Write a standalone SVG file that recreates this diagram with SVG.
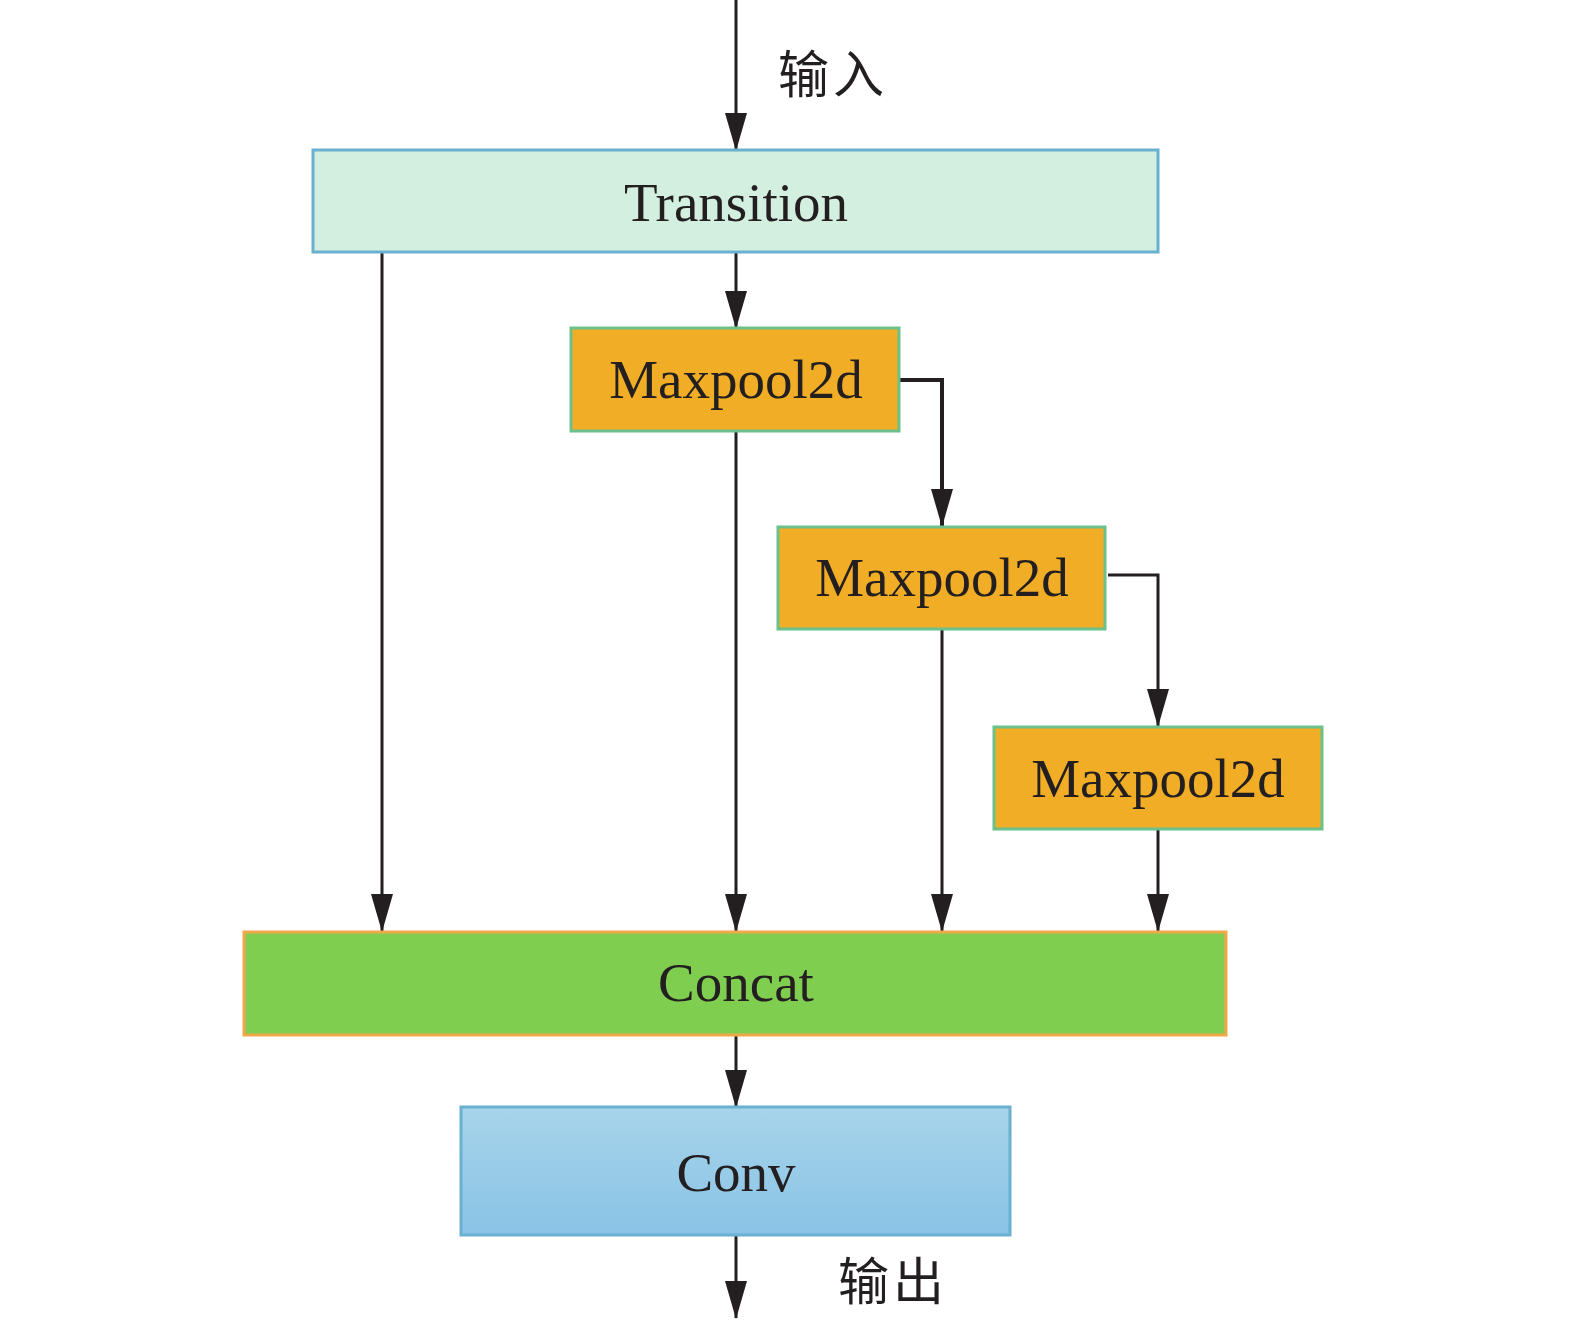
<svg xmlns="http://www.w3.org/2000/svg" width="1575" height="1324" viewBox="0 0 1575 1324">
<defs>
<marker id="a" markerUnits="userSpaceOnUse" markerWidth="38" markerHeight="22" viewBox="0 0 38 22" refX="37" refY="11" orient="auto">
<path d="M0,0 L38,11 L0,22 Z" fill="#231f20"/>
</marker>
<linearGradient id="convg" x1="0" y1="0" x2="0" y2="1">
<stop offset="0" stop-color="#a7d4ea"/>
<stop offset="1" stop-color="#89c3e6"/>
</linearGradient>
<style>
.t{font-family:"Liberation Serif","Times New Roman",serif;font-size:55px;fill:#231f20;text-anchor:middle}
.c{font-family:"Noto Sans CJK SC",sans-serif;font-size:51px;fill:#231f20;letter-spacing:4px}
.e{fill:none;stroke:#231f20;stroke-width:3}
.mp{fill:#f0ad25;stroke:#6cc08a;stroke-width:3}
</style>
</defs>
<g id="connectors">
<line class="e" x1="736" y1="0" x2="736" y2="150" marker-end="url(#a)"/>
<line class="e" x1="736" y1="252" x2="736" y2="328" marker-end="url(#a)"/>
<line class="e" x1="382" y1="252" x2="382" y2="931" marker-end="url(#a)"/>
<line class="e" x1="736" y1="431" x2="736" y2="931" marker-end="url(#a)"/>
<polyline class="e" style="stroke-width:4" points="899,380 942,380 942,526" marker-end="url(#a)"/>
<line class="e" x1="942" y1="629" x2="942" y2="931" marker-end="url(#a)"/>
<polyline class="e" points="1108,575 1158,575 1158,726" marker-end="url(#a)"/>
<line class="e" x1="1158" y1="829" x2="1158" y2="931" marker-end="url(#a)"/>
<line class="e" x1="736" y1="1035" x2="736" y2="1107" marker-end="url(#a)"/>
<line class="e" x1="736" y1="1235" x2="736" y2="1318" marker-end="url(#a)"/>
<text class="c" x="778" y="93">输入</text>
<text class="c" x="838" y="1300">输出</text>
</g>
<g id="transition">
<rect x="313" y="150" width="845" height="102" fill="#d3efdf" stroke="#6ab0d0" stroke-width="3"/>
<text class="t" x="736" y="221">Transition</text>
</g>
<g id="maxpool1">
<rect class="mp" x="571" y="328" width="328" height="103"/>
<text class="t" x="736" y="398">Maxpool2d</text>
</g>
<g id="maxpool2">
<rect class="mp" x="778" y="527" width="327" height="102"/>
<text class="t" x="942" y="596">Maxpool2d</text>
</g>
<g id="maxpool3">
<rect class="mp" x="994" y="727" width="328" height="102"/>
<text class="t" x="1158" y="797">Maxpool2d</text>
</g>
<g id="concat">
<rect x="244" y="932" width="982" height="103" fill="#80ce50" stroke="#f0a848" stroke-width="3"/>
<text class="t" x="736" y="1001">Concat</text>
</g>
<g id="conv">
<rect x="461" y="1107" width="549" height="128" fill="url(#convg)" stroke="#6ab0d0" stroke-width="3"/>
<text class="t" x="736" y="1191">Conv</text>
</g>
</svg>
